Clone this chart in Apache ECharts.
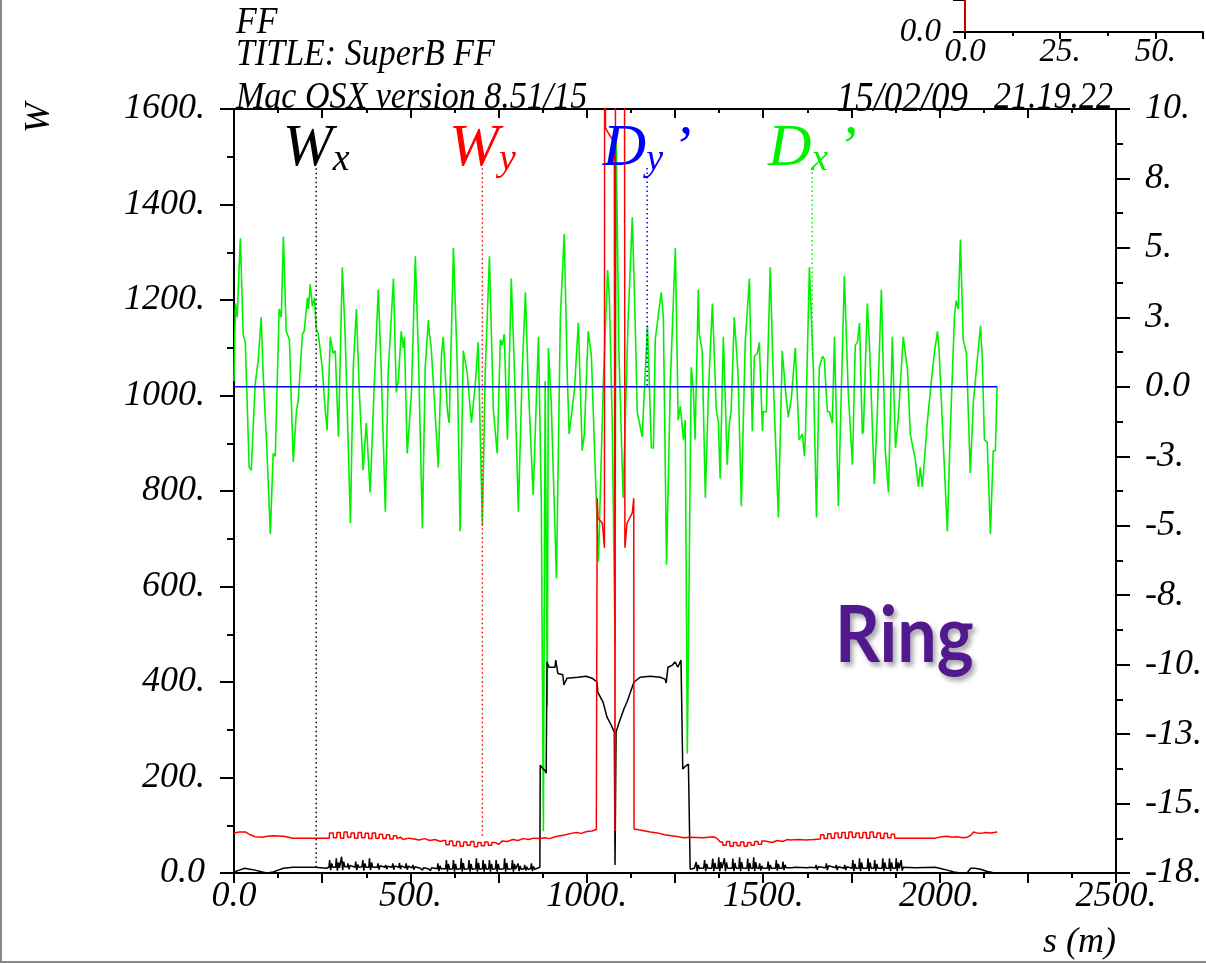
<!DOCTYPE html>
<html>
<head>
<meta charset="utf-8">
<script src="https://cdn.jsdelivr.net/npm/echarts@6/dist/echarts.min.js"></script>
<style>
html,body{margin:0;padding:0;background:#fff;}
#chart{width:1206px;height:964px;}
</style>
</head>
<body>
<div id="chart"></div>
<script>
// ---------- DATA ----------
// s (m) range and tick labels
const sTickLabels = {0:'0.0',500:'500.',1000:'1000.',1500:'1500.',2000:'2000.',2500:'2500.'};
const wTickLabels = {0:'0.0',200:'200.',400:'400.',600:'600.',800:'800.',1000:'1000.',1200:'1200.',1400:'1400.',1600:'1600.'};
const dTickLabels = ['-18.','-15.','-13.','-10.','-8.','-5.','-3.','0.0','3.','5.','8.','10.']; // from -17.5 to 10 step 2.5
const insetTickLabels = {0:'0.0',25:'25.',50:'50.'};

// W_x (black)
const wxData = [
[0,2],[15,6],[30,10],[45,8],[60,6],[80,2],[94,0],[111,2],[125,6],[140,10],[168,12],[230,12],[262,10],
[269,12],[271,27],[274,6],[277,20],[280,12],
[288,12],[290,31],[293,5],[296,22],[299,11],
[303,12],[305,34],[308,6],[311,24],[314,13],
[321,13],[323,20],[326,8],[329,16],[332,12],
[343,12],[345,24],[348,6],[351,18],[354,12],
[363,13],[365,27],[368,5],[371,20],[374,12],
[382,12],[384,31],[387,6],[390,22],[393,12],
[406,12],[408,20],[411,7],[414,15],[417,12],
[428,12],[430,17],[433,8],[436,14],[439,12],
[448,12],[450,20],[453,7],[456,15],[459,11],
[467,12],[469,21],[472,8],[475,15],[478,12],
[486,11],[488,20],[491,7],[494,14],[497,11],
[505,11],[507,17],[510,7],[513,13],[516,10],
[528,10],[531,13],[534,6],[537,11],[540,9],
[551,9],[554,13],[557,5],[560,11],[563,9],
[576,9],[578,20],[581,4],[584,15],[587,9],
[600,9],[602,27],[605,3],[608,19],[611,8],
[620,9],[622,27],[625,3],[628,19],[631,8],
[642,9],[644,31],[647,3],[650,21],[653,8],
[664,9],[666,27],[669,3],[672,19],[675,8],
[685,9],[687,31],[690,3],[693,21],[696,8],
[704,9],[706,27],[709,3],[712,19],[715,8],
[722,9],[724,27],[727,3],[730,19],[733,8],
[741,9],[743,27],[746,3],[749,19],[752,8],
[765,9],[767,31],[770,3],[773,21],[776,8],
[787,9],[789,27],[792,3],[795,19],[798,8],
[803,9],[805,20],[808,4],[811,15],[814,8],
[822,9],[824,17],[827,5],[830,13],[833,8],
[841,9],[843,20],[846,4],[849,14],[852,8],
[860,10],[867,12],[868,226],[876,218],[882,214],[885,209],[887,442],[893,431],[910,431],[912,446],[918,418],
[932,415],[935,394],[944,408],[975,410],[998,412],[1015,408],[1029,400],[1031,379],[1046,358],[1057,327],
[1069,310],[1078,295],[1080,17],[1083,295],[1091,314],[1106,345],[1114,358],[1131,394],[1134,400],[1137,404],
[1151,410],[1180,412],[1208,410],[1222,406],[1225,398],[1230,431],[1242,435],[1250,442],[1258,431],[1267,446],
[1270,446],[1272,218],[1280,224],[1288,228],[1291,228],[1293,8],
[1305,10],[1310,23],[1313,4],[1316,17],[1319,10],
[1331,10],[1334,27],[1337,4],[1340,19],[1343,10],
[1354,10],[1357,30],[1360,4],[1363,21],[1366,10],
[1372,10],[1374,33],[1377,4],[1380,23],[1383,10],
[1388,10],[1390,31],[1393,4],[1396,22],[1399,10],
[1412,10],[1414,30],[1417,4],[1420,21],[1423,10],
[1431,10],[1433,33],[1436,4],[1439,23],[1442,10],
[1454,10],[1456,30],[1459,4],[1462,21],[1465,10],
[1471,10],[1473,33],[1476,4],[1479,23],[1482,10],
[1488,10],[1490,20],[1493,5],[1496,15],[1499,10],
[1512,10],[1514,24],[1517,5],[1520,17],[1523,10],
[1535,10],[1537,27],[1540,5],[1543,19],[1546,10],
[1554,10],[1556,24],[1559,6],[1562,17],[1565,11],
[1582,11],[1584,14],[1587,8],[1590,12],[1593,11],
[1625,11],[1627,13],[1630,8],[1633,12],[1636,11],
[1648,11],[1650,17],[1653,7],[1656,13],[1659,11],
[1677,11],[1679,20],[1682,6],[1685,15],[1688,11],
[1705,11],[1707,17],[1710,6],[1713,13],[1716,11],
[1729,10],[1731,17],[1734,6],[1737,13],[1740,10],
[1752,10],[1754,27],[1757,4],[1760,19],[1763,10],
[1771,10],[1773,31],[1776,4],[1779,22],[1782,10],
[1795,10],[1797,31],[1800,4],[1803,22],[1806,10],
[1814,10],[1816,27],[1819,4],[1822,19],[1825,10],
[1837,10],[1839,31],[1842,4],[1845,22],[1848,10],
[1856,10],[1858,31],[1861,4],[1864,22],[1867,10],
[1875,10],[1877,31],[1880,4],[1883,22],[1886,10],
[1889,10],[1891,27],[1894,5],[1897,12],
[1930,11],[1988,12],[2005,9],[2022,6],[2040,2],[2059,0],[2079,1],[2088,10],[2100,10],[2116,8],[2135,3],[2150,1],[2163,0]
];

// W_y (red)
const wyData = [
[0,84],[15,86],[32,86],[46,80],[60,76],[80,75],[95,77],[111,78],[140,77],[168,73],[200,73],[264,73],
[270,73],[271,84],[281,84],[282,74],[291,74],[292,85],[301,85],[302,73],[311,73],[312,86],[321,86],[322,75],
[331,75],[332,84],[341,84],[342,73],[351,73],[352,85],[361,85],[362,74],[371,74],[372,83],[381,83],[382,72],
[391,72],[392,84],[401,84],[402,73],[411,73],[412,81],[421,81],[422,72],[431,72],[432,80],[441,80],[442,71],
[451,71],[452,78],[461,78],[462,72],[472,75],[480,70],[495,73],
[510,71],[525,69],[540,72],[555,68],[570,70],[585,66],[593,68],
[600,68],[601,59],[610,59],[611,67],[620,67],[621,57],[630,57],[631,66],[640,66],[641,56],[650,56],[651,65],
[660,65],[661,58],[670,58],[671,66],[680,66],[681,55],[690,55],[691,64],[700,64],[701,57],[710,57],[711,65],
[720,65],[721,58],[730,58],[731,64],[740,64],[741,60],[750,60],[760,67],[775,66],[790,70],[805,68],[820,72],
[835,70],[850,73],[868,72],[880,74],
[895,72],[910,76],[925,78],[940,80],[955,83],[970,85],[985,83],[1000,87],[1015,88],[1027,91],[1029,95],
[1029.5,785],[1032,743],[1044,733],[1050,681],[1051,2600],[1053,1560],[1065,1545],[1078,1530],[1080,88],
[1082,2600],[1106,2600],[1108,681],[1114,733],[1129,754],[1133,785],[1134,92],
[1150,90],[1165,88],[1180,86],[1200,84],[1220,80],[1240,78],[1260,76],[1275,74],[1293,75],[1330,74],[1359,76],
[1370,72],[1378,65],
[1385,65],[1386,58],[1395,58],[1396,66],[1405,66],[1406,56],[1415,56],[1416,64],[1425,64],[1426,57],[1435,57],
[1436,65],[1445,65],[1446,56],[1455,56],[1456,64],[1465,64],[1466,58],[1475,58],[1476,66],[1485,66],[1486,60],
[1495,60],[1496,67],[1505,67],[1510,66],[1525,64],[1540,68],[1555,66],[1568,70],
[1577,69],[1600,70],[1620,69],[1643,70],
[1662,71],[1663,80],[1672,80],[1673,72],[1682,72],[1683,82],[1692,82],[1693,73],[1702,73],[1703,84],[1712,84],
[1713,74],[1722,74],[1723,85],[1732,85],[1733,73],[1742,73],[1743,86],[1752,86],[1753,75],[1762,75],[1763,84],
[1772,84],[1773,74],[1782,74],[1783,85],[1792,85],[1793,73],[1802,73],[1803,86],[1812,86],[1813,75],[1822,75],
[1823,84],[1832,84],[1833,73],[1842,73],[1843,83],[1852,83],[1853,74],[1862,74],[1863,81],[1872,81],[1873,73],
[1897,73],[1988,73],[2005,76],[2022,77],[2035,75],[2050,76],[2065,74],[2079,75],[2090,80],
[2096,86],[2105,84],[2116,83],[2130,85],[2145,84],[2163,86]
];

// D_x' (green)
const dxData = [
[0,0.2],[4,3.0],[9,2.5],[18,5.35],[26,1.9],[32,1.6],[43,-2.9],[49,-3.0],[60,0.1],[69,1.0],[77,2.5],[83,0.35],
[92,-1.9],[97,-1.9],[103,-5.3],[111,-2.4],[117,-2.5],[128,2.8],[134,2.5],[140,5.4],[148,2.0],[157,1.7],[168,-2.7],
[177,-0.85],[182,-0.5],[194,1.9],[199,2.0],[208,3.2],[211,2.8],[216,3.7],[222,2.9],[228,3.2],[233,2.1],[239,1.9],
[250,0.7],[259,-0.9],[264,-1.56],[273,1.8],[281,1.2],[287,1.3],[296,-1.8],[307,4.3],[315,1.9],[330,-4.9],[338,0.7],
[347,2.8],[355,-0.1],[366,-3.0],[375,-1.3],[386,-3.8],[397,-0.1],[409,3.5],[417,0.7],[429,-4.5],[437,0.5],[452,3.9],
[460,-0.2],[466,0.25],[474,2.0],[480,1.4],[483,1.8],[491,-2.4],[503,-0.2],[514,4.7],[523,1.0],[534,-5.1],[542,0.7],
[551,2.4],[553,2.0],[559,1.4],[568,-0.5],[579,-2.9],[588,1.1],[593,1.8],[605,-0.9],[610,-1.3],[622,5.0],[633,0.7],
[641,-5.2],[650,1.3],[661,0.5],[673,-1.3],[684,0.1],[692,1.6],[704,-5.0],[712,0.5],[724,4.7],[735,-0.8],[746,-2.4],
[755,1.7],[760,1.5],[766,1.9],[775,-1.9],[786,3.9],[795,0.5],[806,-4.5],[817,0.6],[826,3.4],[834,0.1],[848,-3.9],
[854,-1.6],[863,1.8],[871,-4.1],[877,-16.0],[882,0.2],[888,-11.5],[891,1.4],[899,-0.5],[914,-6.9],[925,2.5],
[936,5.5],[945,0.25],[950,-1.7],[965,-0.1],[976,2.3],[987,-2.3],[993,-1.7],[1004,2.0],[1013,1.1],[1024,-3.0],
[1033,-6.3],[1047,0.2],[1059,4.2],[1064,3.2],[1072,-1.2],[1080,-9.2],[1083,9.2],[1091,1.3],[1103,-4.0],[1117,2.4],
[1129,6.1],[1137,2.4],[1143,-0.9],[1157,-1.8],[1172,2.2],[1183,-2.2],[1189,-2.2],[1194,1.7],[1211,3.4],[1217,2.5],
[1226,-6.4],[1237,0.25],[1251,5.0],[1259,-1.2],[1265,-0.7],[1274,-1.9],[1279,-1.2],[1285,-13.2],[1296,0.7],
[1302,-0.1],[1307,-1.9],[1316,3.5],[1319,1.9],[1327,1.3],[1336,-4.0],[1345,-0.1],[1356,3.0],[1367,-0.8],[1373,-1.3],
[1378,-3.3],[1387,1.8],[1398,-2.8],[1404,-1.3],[1409,-0.9],[1418,2.5],[1426,1.0],[1429,0.35],[1438,-4.3],[1449,1.6],
[1461,3.9],[1469,-1.6],[1475,1.1],[1483,1.2],[1489,1.6],[1498,-1.6],[1500,-0.9],[1509,-0.9],[1520,4.3],[1529,0.1],
[1543,-4.7],[1554,1.3],[1563,-0.1],[1571,-1.1],[1580,-0.4],[1591,1.4],[1602,-1.9],[1611,-1.7],[1617,-2.5],
[1620,-1.6],[1631,4.3],[1642,0.7],[1651,-4.7],[1659,0.7],[1668,1.1],[1673,1.0],[1682,-0.9],[1688,-0.9],[1696,-1.3],
[1702,1.8],[1713,-4.3],[1730,4.0],[1741,-0.2],[1753,-2.8],[1761,1.5],[1767,1.6],[1773,2.3],[1781,-1.7],[1784,-1.6],
[1795,3.0],[1801,1.6],[1815,-3.5],[1823,-1.1],[1835,3.5],[1846,-2.3],[1855,-3.8],[1866,1.8],[1875,-2.2],[1883,-1.1],
[1897,1.8],[1909,0.6],[1917,-1.7],[1926,-2.3],[1931,-2.6],[1940,-3.6],[1945,-2.9],[1951,-3.6],[1959,-2.3],
[1965,-1.3],[1979,0.5],[1985,1.2],[1994,2.0],[1999,1.2],[2011,-2.2],[2022,-5.2],[2030,-1.7],[2042,2.5],[2047,3.1],
[2053,2.8],[2059,5.3],[2067,1.7],[2076,1.2],[2087,-3.1],[2096,-0.5],[2107,1.0],[2116,2.2],[2121,1.0],[2127,-1.9],
[2135,-2.0],[2144,-5.3],[2152,-2.3],[2158,-2.3],[2163,0.0]
];

// D_y' (blue)
const dyData = [[0,0],[2163,0]];

// curve labels: [s, top value, value at curve]
const wxMark = [233, 1476, 12];
const wyMark = [704, 1476, 75];
const dyMark = [1171, 7.88, 0];
const dxMark = [1639, 7.88, 1.2];

// inset fragment (top right)
const insetData = [[0,0],[0,1]];

// ---------- CHART ----------
const SERIF = 'Liberation Serif';
const chart = echarts.init(document.getElementById('chart'), null, {renderer:'canvas'});

function lbl(size){ return {fontFamily:SERIF, fontStyle:'italic', fontSize:size, color:'#000'}; }

function labelSeries(mark, yIdx, color, main, sub, prime){
  const fmt = '{m|'+main+'}{s|'+sub+'}' + (prime ? '{p|’}' : '');
  return [{
    type:'line', xAxisIndex:0, yAxisIndex:yIdx, data:[[mark[0],mark[1]],[mark[0],mark[2]]],
    showSymbol:false, silent:true, z:6,
    lineStyle:{color:color, width:1.5, type:[1.5,3]}
  },{
    type:'scatter', xAxisIndex:0, yAxisIndex:yIdx, data:[[mark[0],mark[1]]],
    symbol:'circle', symbolSize:2, itemStyle:{color:'rgba(255,255,255,0)', opacity:1}, silent:true, z:7,
    labelLayout:{hideOverlap:false},
    label:{show:true, position:'top', distance:-12, formatter:fmt, color:color, opacity:1,
      rich:{
        m:{fontFamily:SERIF, fontStyle:'italic', fontSize:60, color:color, verticalAlign:'bottom', lineHeight:60},
        s:{fontFamily:SERIF, fontStyle:'italic', fontSize:38, color:color, verticalAlign:'bottom', lineHeight:52},
        p:{fontFamily:SERIF, fontStyle:'italic', fontSize:58, color:color, verticalAlign:'bottom', lineHeight:60, padding:[0,0,0,9]}
      }}
  }];
}

const axisLineStyle = {color:'#000', width:2};
const headFont = 'italic 34px "Liberation Serif"';

const option = {
  animation:false,
  backgroundColor:'#ffffff',
  grid:[
    {left:234, right:90, top:109, bottom:91},
    {left:965, top:0, height:32, width:250}
  ],
  xAxis:[
    {gridIndex:0, type:'value', min:0, max:2500, interval:250, position:'bottom',
     axisLine:{show:true, onZero:false, lineStyle:axisLineStyle},
     axisTick:{show:true, inside:false, length:10, lineStyle:axisLineStyle},
     minorTick:{show:true, splitNumber:2, length:5, lineStyle:axisLineStyle},
     splitLine:{show:false}, minorSplitLine:{show:false},
     axisLabel:Object.assign(lbl(36), {margin:6, formatter:v => (sTickLabels[v] !== undefined ? sTickLabels[v] : '')})},
    {gridIndex:0, type:'value', min:0, max:2500, interval:250, position:'top',
     axisLine:{show:true, onZero:false, lineStyle:axisLineStyle},
     axisTick:{show:true, inside:true, length:9, lineStyle:axisLineStyle},
     minorTick:{show:true, splitNumber:2, length:4, lineStyle:axisLineStyle},
     splitLine:{show:false}, axisLabel:{show:false}},
    {gridIndex:1, type:'value', min:0, max:62.5, interval:25, position:'bottom',
     axisLine:{show:true, onZero:false, lineStyle:axisLineStyle},
     axisTick:{show:true, inside:false, length:7, lineStyle:axisLineStyle},
     minorTick:{show:true, splitNumber:2, length:4, lineStyle:axisLineStyle},
     splitLine:{show:false},
     axisLabel:Object.assign(lbl(33), {margin:4, formatter:v => (insetTickLabels[v] !== undefined ? insetTickLabels[v] : '')})}
  ],
  yAxis:[
    {gridIndex:0, type:'value', min:0, max:1600, interval:200, position:'left',
     axisLine:{show:true, onZero:false, lineStyle:axisLineStyle},
     axisTick:{show:true, inside:false, length:14, lineStyle:axisLineStyle},
     minorTick:{show:true, splitNumber:2, length:7, lineStyle:axisLineStyle},
     splitLine:{show:false},
     axisLabel:Object.assign(lbl(36), {margin:29, formatter:v => wTickLabels[v] || ''})},
    {gridIndex:0, type:'value', min:-17.5, max:10, interval:2.5, position:'right',
     axisLine:{show:true, onZero:false, lineStyle:axisLineStyle},
     axisTick:{show:true, inside:false, length:14, lineStyle:axisLineStyle},
     minorTick:{show:true, splitNumber:2, length:7, lineStyle:axisLineStyle},
     splitLine:{show:false},
     axisLabel:Object.assign(lbl(36), {margin:29, formatter:v => dTickLabels[Math.round((v + 17.5)/2.5)] || ''})},
    {gridIndex:1, type:'value', min:0, max:1, interval:1, position:'left',
     axisLine:{show:true, onZero:false, lineStyle:axisLineStyle},
     axisTick:{show:true, inside:false, length:12, lineStyle:axisLineStyle},
     splitLine:{show:false},
     axisLabel:Object.assign(lbl(33), {margin:24, formatter:v => (v === 0 ? '0.0' : '')})}
  ],
  series:[
    {type:'line', name:"Dx'", xAxisIndex:0, yAxisIndex:1, data:dxData, showSymbol:false, z:2, silent:true,
     lineStyle:{color:'#00f000', width:1.6}},
    {type:'line', name:"Dy'", xAxisIndex:0, yAxisIndex:1, data:dyData, showSymbol:false, z:3, silent:true,
     lineStyle:{color:'#0000ff', width:1.6}},
    {type:'line', name:'Wx', xAxisIndex:0, yAxisIndex:0, data:wxData, showSymbol:false, z:4, silent:true,
     lineStyle:{color:'#000000', width:1.5}},
    {type:'line', name:'Wy', xAxisIndex:0, yAxisIndex:0, data:wyData, showSymbol:false, z:5, silent:true, clip:true,
     lineStyle:{color:'#ff0000', width:1.5}},
    ...labelSeries(wxMark, 0, '#000000', 'W', 'x', false),
    ...labelSeries(wyMark, 0, '#ff0000', 'W', 'y', false),
    ...labelSeries(dyMark, 1, '#0000ff', 'D', 'y', true),
    ...labelSeries(dxMark, 1, '#00f000', 'D', 'x', true),
    {type:'line', xAxisIndex:2, yAxisIndex:2, data:insetData, showSymbol:false, z:5, silent:true,
     lineStyle:{color:'#cc0000', width:2}}
  ],
  graphic:[
    {type:'rect', shape:{x:1, y:-10, width:1220, height:972}, style:{fill:'none', stroke:'#888', lineWidth:2}, z:0, silent:true},
    {type:'text', x:236, y:4, scaleY:1.12, style:{text:'FF', font:headFont, fill:'#000', textVerticalAlign:'top'}, z:10},
    {type:'text', x:236, y:36, scaleY:1.12, style:{text:'TITLE: SuperB FF', font:headFont, fill:'#000', textVerticalAlign:'top'}, z:10},
    {type:'text', x:236, y:79, scaleY:1.12, style:{text:'Mac OSX version 8.51/15', font:headFont, fill:'#000', textVerticalAlign:'top'}, z:10},
    {type:'text', x:968, y:79, scaleY:1.12, style:{text:'15/02/09', font:'italic 37px "Liberation Serif"', fill:'#000', textAlign:'right', textVerticalAlign:'top'}, z:10},
    {type:'text', x:1113, y:79, scaleY:1.12, style:{text:'21.19.22', font:headFont, fill:'#000', textAlign:'right', textVerticalAlign:'top'}, z:10},
    {type:'text', x:40, y:118, rotation:Math.PI/2, style:{text:'W', font:'italic 36px "Liberation Serif"', fill:'#000', textAlign:'center', textVerticalAlign:'middle'}, z:10},
    {type:'text', x:1116, y:925, style:{text:'s (m)', font:'italic 36px "Liberation Serif"', fill:'#000', textAlign:'right', textVerticalAlign:'top'}, z:10},
    {type:'text', x:835, y:598, scaleY:1.12, style:{text:'Ring', font:'bold 70px Lato', fill:'#52198f', textVerticalAlign:'top',
      textShadowColor:'rgba(0,0,0,0.35)', textShadowBlur:5, textShadowOffsetX:3, textShadowOffsetY:4}, z:10}
  ]
};
chart.setOption(option);
</script>
</body>
</html>
